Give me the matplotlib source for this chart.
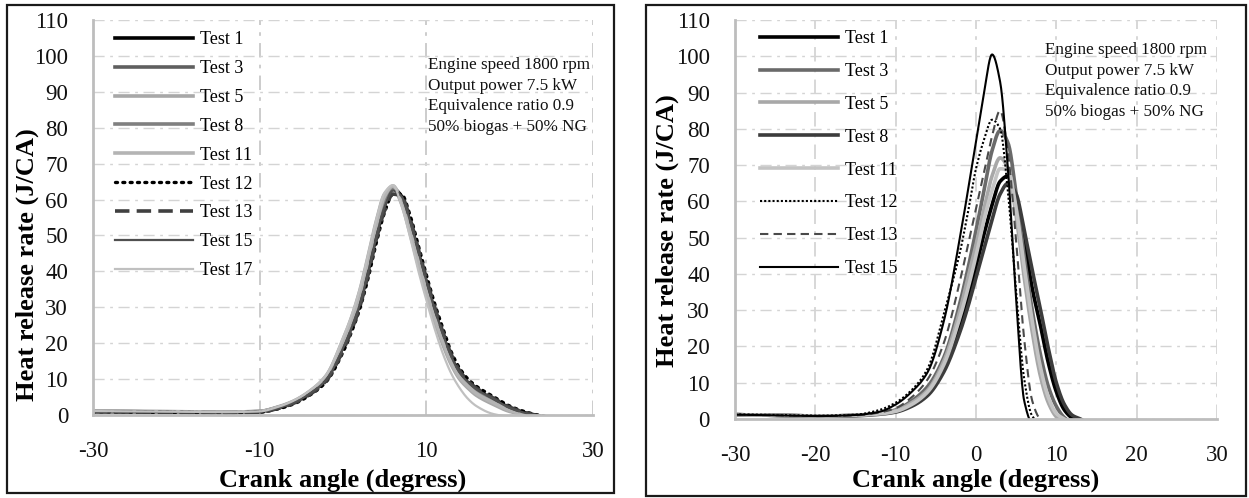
import numpy as np
import matplotlib
matplotlib.use("Agg")
import matplotlib.pyplot as plt
from matplotlib.patches import Rectangle

plt.rcParams['font.family'] = ['Liberation Serif', 'DejaVu Serif']

# ---- data: heat release rate (J/CA) vs crank angle (deg) ----
angle_left = [-30, -25, -20, -15, -10, -8, -6, -4, -2, 0, 1, 2, 3, 4, 5, 6, 7, 8, 9,
              10, 11, 12, 13, 14, 15, 16, 18, 20, 22, 24, 26]
left_test1 = [1.0, 0.9, 0.8, 0.7, 0.9, 1.8, 3.4, 6.0, 10.0, 19.0, 24.5, 31.0, 40.0, 50.0, 58.5, 63.0, 61.0, 54.0, 45.5,
              37.0, 29.0, 22.0, 16.0, 11.5, 9.0, 7.0, 4.5, 2.0, 0.5, -0.5, -1.0]
left_test3 = [1.0, 0.9, 0.8, 0.7, 1.0, 2.0, 3.6, 6.3, 10.5, 20.0, 26.0, 33.0, 42.0, 52.0, 60.0, 63.0, 59.5, 52.0, 43.5,
              35.0, 27.5, 21.0, 15.0, 11.0, 8.5, 6.5, 4.0, 1.6, 0.2, -0.5, -1.0]
left_test5 = [1.1, 1.0, 0.9, 0.8, 1.0, 2.1, 3.8, 6.6, 11.0, 21.0, 27.0, 34.5, 44.0, 54.0, 61.5, 63.5, 59.0, 51.0, 42.0,
              33.5, 26.0, 19.5, 14.0, 10.0, 7.5, 5.5, 3.0, 1.0, 0.0, -0.5, -1.0]
left_test8 = [1.0, 0.9, 0.8, 0.7, 0.9, 1.9, 3.5, 6.1, 10.2, 19.5, 25.0, 32.0, 41.0, 51.0, 59.5, 63.0, 60.0, 53.0, 44.5,
              36.0, 28.5, 21.5, 15.5, 11.0, 8.5, 6.5, 4.2, 1.8, 0.3, -0.5, -1.0]
left_test11 = [1.1, 1.0, 0.9, 0.8, 1.0, 2.0, 3.7, 6.4, 10.8, 20.5, 26.5, 33.5, 43.0, 53.0, 61.0, 63.8, 59.5, 52.0, 43.0,
               34.5, 27.0, 20.5, 14.5, 10.5, 8.0, 6.0, 3.5, 1.3, 0.1, -0.5, -1.0]
left_test12 = [0.9, 0.8, 0.7, 0.6, 0.8, 1.6, 3.0, 5.5, 9.3, 17.5, 23.0, 29.5, 38.0, 48.0, 56.5, 61.5, 61.5, 56.0, 47.5,
               39.0, 31.0, 24.0, 17.5, 13.0, 10.0, 8.0, 5.2, 2.5, 0.8, -0.3, -1.0]
left_test13 = [0.9, 0.8, 0.7, 0.6, 0.8, 1.7, 3.2, 5.7, 9.6, 18.0, 23.5, 30.0, 39.0, 49.0, 57.0, 61.5, 61.0, 55.0, 46.5,
               38.0, 30.0, 23.0, 16.8, 12.3, 9.5, 7.5, 4.8, 2.2, 0.6, -0.4, -1.0]
left_test15 = [1.0, 0.9, 0.8, 0.7, 0.9, 1.8, 3.3, 5.9, 9.8, 18.5, 24.0, 30.5, 39.5, 49.5, 58.0, 62.5, 61.0, 54.5, 46.0,
               37.5, 29.5, 22.5, 16.3, 11.8, 9.2, 7.2, 4.6, 2.0, 0.5, -0.5, -1.0]
left_test17 = [1.1, 1.0, 0.9, 0.8, 1.0, 2.1, 3.9, 6.8, 11.2, 21.5, 27.5, 35.0, 44.5, 54.5, 62.0, 64.0, 58.5, 50.0, 40.5,
               32.0, 24.0, 17.0, 11.5, 7.5, 4.5, 2.5, 0.3, -0.5, -1.0, -1.0, -1.0]

angle_right = [-30, -25, -20, -15, -12, -10, -8, -6, -4, -2, -1, 0, 1, 2, 3, 4, 5, 6, 7, 8, 9,
               10, 11, 12, 13, 14, 15]
right_test1 = [1.2, 1.0, 0.8, 1.0, 1.5, 2.2, 4.0, 7.0, 14.0, 26.0, 33.5, 42.0, 51.0, 59.0, 65.5, 67.0, 61.0, 49.0, 36.0,
               26.0, 15.5, 7.5, 2.5, 0.2, -1, -1, -1]
right_test3 = [1.2, 1.0, 0.8, 1.0, 1.6, 2.5, 5.0, 9.0, 17.0, 32.0, 41.5, 52.0, 63.0, 74.0, 79.5, 76.0, 62.0, 45.0, 30.0,
               18.0, 9.0, 3.5, 0.4, -1, -1, -1, -1]
right_test5 = [1.2, 1.0, 0.8, 1.0, 1.5, 2.3, 4.5, 8.0, 16.0, 30.0, 39.0, 48.0, 58.0, 67.0, 72.0, 69.0, 56.0, 39.0, 24.0,
               12.0, 4.5, 0.6, -1, -1, -1, -1, -1]
right_test8 = [1.2, 1.0, 0.8, 0.9, 1.3, 1.9, 3.5, 6.5, 13.0, 24.0, 31.0, 39.0, 47.0, 55.0, 62.0, 65.0, 62.0, 52.0, 41.0,
               30.5, 19.5, 10.0, 4.0, 1.0, 0.0, -1, -1]
right_test11 = [1.2, 1.0, 0.8, 1.0, 1.4, 2.1, 4.0, 7.5, 15.0, 28.0, 36.0, 45.0, 55.0, 63.0, 69.0, 68.5, 58.0, 42.0, 27.0,
                14.5, 6.0, 1.5, 0.0, -1, -1, -1, -1]
right_test12 = [1.3, 1.1, 0.9, 1.2, 2.5, 4.5, 8.0, 14.0, 29.0, 46.0, 57.0, 69.0, 77.0, 82.5, 80.0, 62.0, 35.0, 11.0, 0.8,
                -1, -1, -1, -1, -1, -1, -1, -1]
right_test13 = [1.2, 1.0, 0.8, 1.0, 1.8, 3.0, 6.0, 11.0, 21.0, 38.0, 48.0, 58.0, 68.0, 78.0, 85.0, 73.0, 49.0, 22.0, 5.0,
                0.0, -1, -1, -1, -1, -1, -1, -1]
right_test15 = [1.2, 1.0, 0.8, 1.1, 2.0, 4.0, 7.5, 13.0, 27.0, 50.0, 63.0, 76.5, 90.0, 100.5, 93.0, 68.0, 33.0, 5.0, -1,
                -1, -1, -1, -1, -1, -1, -1, -1]

labels_left = ["Test 1", "Test 3", "Test 5", "Test 8", "Test 11", "Test 12", "Test 13", "Test 15", "Test 17"]
labels_right = ["Test 1", "Test 3", "Test 5", "Test 8", "Test 11", "Test 12", "Test 13", "Test 15"]
yticks = [0, 10, 20, 30, 40, 50, 60, 70, 80, 90, 100, 110]
xticks_left = [-30, -10, 10, 30]
xticks_right = [-30, -20, -10, 0, 10, 20, 30]
notes = ["Engine speed 1800 rpm", "Output power 7.5 kW", "Equivalence ratio 0.9", "50% biogas + 50% NG"]


def smooth_line(x, y, num=16):
    """Monotone cubic (smoothed line) through the measured points."""
    x = np.asarray(x, float)
    y = np.asarray(y, float)
    h = np.diff(x)
    d = np.diff(y) / h
    m = np.zeros_like(y)
    for k in range(1, len(x) - 1):
        if d[k - 1] * d[k] > 0:
            w1 = 2 * h[k] + h[k - 1]
            w2 = h[k] + 2 * h[k - 1]
            m[k] = (w1 + w2) / (w1 / d[k - 1] + w2 / d[k])
    m[0] = d[0]
    m[-1] = d[-1]
    xs, ys = [], []
    t = np.linspace(0, 1, num, endpoint=False)
    h00 = 2 * t**3 - 3 * t**2 + 1
    h10 = t**3 - 2 * t**2 + t
    h01 = -2 * t**3 + 3 * t**2
    h11 = t**3 - t**2
    for k in range(len(h)):
        xs.append(x[k] + t * h[k])
        ys.append(h00 * y[k] + h10 * h[k] * m[k] + h01 * y[k + 1] + h11 * h[k] * m[k + 1])
    xs.append([x[-1]])
    ys.append([y[-1]])
    return np.concatenate(xs), np.concatenate(ys)


W, H = 1249, 498
fig = plt.figure(figsize=(W / 100, H / 100), dpi=100)

# panel frames
for (x0, y0, x1, y1) in [(7, 5, 614, 493), (646, 5, 1246, 496)]:
    fig.patches.append(Rectangle((x0 / W, 1 - y1 / H), (x1 - x0) / W, (y1 - y0) / H,
                                 transform=fig.transFigure, fill=False,
                                 edgecolor='#1a1a1a', linewidth=1.6))

axL = fig.add_axes([93 / W, 1 - 415 / H, (593 - 93) / W, (415 - 20) / H])
axR = fig.add_axes([735 / W, 1 - 419 / H, (1217 - 735) / W, (419 - 20) / H])

styles_left = [
    dict(color='#000000', lw=2.6, ls='-'),
    dict(color='#5f5f5f', lw=2.6, ls='-'),
    dict(color='#a8a8a8', lw=2.6, ls='-'),
    dict(color='#808080', lw=2.6, ls='-'),
    dict(color='#b4b4b4', lw=2.6, ls='-'),
    dict(color='#000000', lw=2.4, ls=(0, (0.6, 1.6)), dash_capstyle='round'),
    dict(color='#404040', lw=2.6, ls=(0, (4, 2))),
    dict(color='#505050', lw=1.6, ls='-'),
    dict(color='#c0c0c0', lw=1.6, ls='-'),
]
styles_right = [
    dict(color='#000000', lw=2.6, ls='-'),
    dict(color='#6a6a6a', lw=2.6, ls='-'),
    dict(color='#a8a8a8', lw=2.6, ls='-'),
    dict(color='#3c3c3c', lw=2.6, ls='-'),
    dict(color='#c4c4c4', lw=2.6, ls='-'),
    dict(color='#000000', lw=1.5, ls=(0, (1, 1))),
    dict(color='#4a4a4a', lw=1.5, ls=(0, (4, 2.5))),
    dict(color='#000000', lw=1.5, ls='-'),
]

series_left = [left_test1, left_test3, left_test5, left_test8, left_test11,
               left_test12, left_test13, left_test15, left_test17]
series_right = [right_test1, right_test3, right_test5, right_test8, right_test11,
                right_test12, right_test13, right_test15]

for vals, lab, st in zip(series_left, labels_left, styles_left):
    xs, ys = smooth_line(angle_left, vals)
    axL.plot(xs, ys, label=lab, **st)
for vals, lab, st in zip(series_right, labels_right, styles_right):
    xs, ys = smooth_line(angle_right, vals)
    axR.plot(xs, ys, label=lab, **st)


def style_axes(ax, xticks, vgrid_color):
    ax.set_xlim(-30, 30)
    ax.set_ylim(0, 110)
    ax.set_xticks(xticks)
    ax.set_yticks(yticks)
    ax.set_xticklabels([str(t) for t in xticks])
    ax.set_yticklabels([str(t) for t in yticks])
    ax.tick_params(axis='both', length=0, labelsize=16.5, colors='#111111')
    ax.tick_params(axis='x', pad=19)
    ax.tick_params(axis='y', pad=18)
    ax.grid(True, axis='y', color='#d4d4d4', lw=1.0, ls=(0, (8, 4, 2, 4)))
    ax.grid(True, axis='x', color=vgrid_color, lw=1.3, ls=(0, (8, 4, 2, 4)))
    ax.set_axisbelow(True)
    for s in ['top', 'right']:
        ax.spines[s].set_visible(False)
    for s in ['left', 'bottom']:
        ax.spines[s].set_color('#bdbdbd')
        ax.spines[s].set_linewidth(2.0)
    ax.set_xlabel("Crank angle (degress)", fontsize=19, fontweight='bold')
    ax.set_ylabel("Heat release rate (J/CA)", fontsize=19, fontweight='bold')


style_axes(axL, xticks_left, '#c8c8c8')
style_axes(axR, xticks_right, '#d4d4d4')

axL.xaxis.set_label_coords(0.5, -(480 - 415) / 395, transform=axL.transAxes)
axR.xaxis.set_label_coords(0.5, -(480 - 419) / 399, transform=axR.transAxes)
axL.yaxis.set_label_coords((27 - 93) / 500, (415 - 265) / 395)
axR.yaxis.set_label_coords((667 - 735) / 482, (419 - 231) / 399)
axL.xaxis.label.set_va('center')
axR.xaxis.label.set_va('center')
axL.yaxis.label.set_va('center')
axR.yaxis.label.set_va('center')

legL = axL.legend(loc='upper left', bbox_to_anchor=(115 / W, 1 - 31 / H),
                  bbox_transform=fig.transFigure, frameon=False, fontsize=13,
                  handlelength=4.3, handletextpad=0.4, labelspacing=0.66,
                  borderpad=0, borderaxespad=0)
legR = axR.legend(loc='upper left', bbox_to_anchor=(760 / W, 1 - 30 / H),
                  bbox_transform=fig.transFigure, frameon=False, fontsize=13,
                  handlelength=4.3, handletextpad=0.4, labelspacing=0.88,
                  borderpad=0, borderaxespad=0)

for i, line in enumerate(notes):
    fig.text(428 / W, 1 - (65 + 20.7 * i) / H, line, fontsize=12.3,
             ha='left', va='center', color='#111111')
    fig.text(1045 / W, 1 - (50 + 20.7 * i) / H, line, fontsize=12.3,
             ha='left', va='center', color='#111111')

fig.savefig("out.png", dpi=100)
